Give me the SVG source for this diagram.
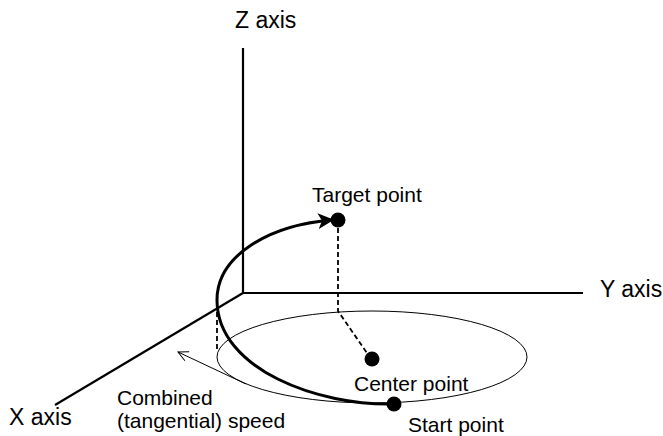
<svg xmlns="http://www.w3.org/2000/svg" width="663" height="436" viewBox="0 0 663 436">
<style>
text{font-family:"Liberation Sans",Arial,sans-serif;fill:#000}
.ax{font-size:23px}
.lb{font-size:21px}
.axis{stroke:#000;stroke-width:2.2;fill:none}
.dash{stroke:#000;stroke-width:1.8;stroke-dasharray:5 3;fill:none}
.thin{stroke:#000;stroke-width:1;fill:none}
.dot{fill:#000}
</style>
<defs>
<marker id="barb" markerUnits="userSpaceOnUse" markerWidth="16" markerHeight="16" viewBox="0 0 16 16" refX="14" refY="8" orient="auto">
<path d="M0,0 L16,8 L0,16 L4,8 Z" fill="#000"/>
</marker>
<marker id="open" markerUnits="userSpaceOnUse" markerWidth="12" markerHeight="12" viewBox="0 0 12 12" refX="11" refY="6" orient="auto">
<path d="M1,1 L11,6 L1,11" fill="none" stroke="#000" stroke-width="1"/>
</marker>
</defs>
<rect width="663" height="436" fill="#fff"/>
<g id="axes">
<line class="axis" x1="243" y1="48" x2="243" y2="293"/>
<line class="axis" x1="242" y1="293" x2="583" y2="293"/>
<line class="axis" x1="243" y1="293" x2="55" y2="405"/>
<text class="ax" x="235" y="28">Z axis</text>
<text class="ax" x="600" y="297">Y axis</text>
<text class="ax" x="9" y="425">X axis</text>
</g>
<g id="circle-plane">
<ellipse class="thin" cx="372" cy="357" rx="155" ry="46"/>
</g>
<g id="connectors">
<line class="dash" x1="217" y1="312" x2="217" y2="352"/>
<path class="dash" d="M338,228 L338,311 L367,353"/>
<path d="M394,404 C320,406 217,370 217,300 C217,255 270,225 332,220" stroke="#000" stroke-width="3" fill="none" marker-end="url(#barb)"/>
<line class="thin" x1="246" y1="384" x2="178" y2="352" marker-end="url(#open)"/>
</g>
<g id="target-point">
<circle class="dot" cx="338" cy="220" r="7.5"/>
<text class="lb" x="312" y="202">Target point</text>
</g>
<g id="center-point">
<circle class="dot" cx="372" cy="359" r="7.5"/>
<text class="lb" x="354" y="391">Center point</text>
</g>
<g id="start-point">
<circle class="dot" cx="394" cy="404" r="7.5"/>
<text class="lb" x="408" y="432">Start point</text>
</g>
<g id="speed-label">
<text class="lb" x="117" y="405">Combined</text>
<text class="lb" x="117" y="428">(tangential) speed</text>
</g>
</svg>
